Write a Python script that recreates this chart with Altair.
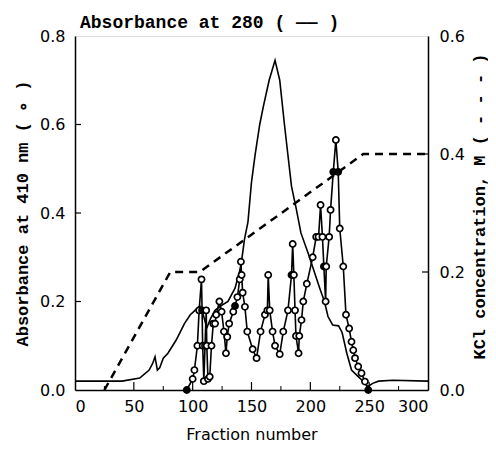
import altair as alt
import pandas as pd

# ---- data ----
frac_280 = [0, 40, 55, 63, 66, 68, 70, 72, 75, 79, 86, 93, 98, 102, 106, 109, 112, 115, 119, 124, 130,
            136, 141, 144, 147, 150, 153, 157, 160, 165, 170, 174, 178, 181, 184, 188, 192, 198, 203,
            208, 212, 215, 219, 224, 227, 231, 235, 242, 249, 253, 258, 270, 300]
abs_280 = [0.02, 0.02, 0.027, 0.045, 0.06, 0.075, 0.045, 0.05, 0.072, 0.083, 0.113, 0.15, 0.17, 0.18, 0.19,
           0.17, 0.14, 0.16, 0.18, 0.19, 0.2, 0.23, 0.28, 0.34, 0.38, 0.47, 0.53, 0.6, 0.64, 0.70, 0.745,
           0.70, 0.60, 0.53, 0.46, 0.41, 0.355, 0.31, 0.27, 0.23, 0.2, 0.166, 0.147, 0.145, 0.13, 0.083,
           0.045, 0.027, 0.008, 0.015, 0.02, 0.022, 0.02]

frac_410 = [95, 100, 101.5, 104, 105.5, 107.5, 108, 108.5, 109.5, 110.5, 111.5, 112, 113, 114.5, 116,
            117.5, 119, 120, 122.7, 124.6, 126.6, 128.3, 129.4, 131, 134.5, 136, 138, 140, 141, 141.6,
            142.5, 144.4, 146.4, 151, 154.3, 157.7, 161.4, 163.5, 164.2, 165.5, 167.9, 170, 174, 177,
            181, 184, 185, 186, 187, 187.8, 190, 190.6, 192.5, 194, 197, 202, 205, 207, 208.7, 210.3,
            211.5, 213, 213.5, 216, 217.2, 219.5, 221.7, 223.7, 225, 228, 230.3, 233, 235, 236.5, 238,
            240.7, 243.5, 246.4, 249.2]
abs_410 = [0.0, 0.025, 0.045, 0.10, 0.18, 0.25, 0.18, 0.10, 0.02, 0.10, 0.18, 0.10, 0.025, 0.03, 0.10,
           0.15, 0.15, 0.17, 0.20, 0.177, 0.132, 0.083, 0.12, 0.15, 0.177, 0.19, 0.21, 0.25, 0.29, 0.26,
           0.22, 0.188, 0.132, 0.092, 0.072, 0.132, 0.17, 0.18, 0.26, 0.18, 0.132, 0.10, 0.081, 0.132,
           0.18, 0.26, 0.33, 0.26, 0.18, 0.122, 0.083, 0.122, 0.158, 0.20, 0.24, 0.30, 0.346, 0.346,
           0.418, 0.346, 0.279, 0.20, 0.279, 0.346, 0.407, 0.493, 0.565, 0.493, 0.365, 0.279, 0.17,
           0.139, 0.109, 0.09, 0.072, 0.053, 0.038, 0.019, 0.0]
filled_410 = [1, 0, 0, 0, 0, 0, 1, 0, 0, 0, 0, 0, 0, 0, 0,
              0, 0, 0, 0, 0, 0, 0, 0, 0, 0, 1, 0, 0, 0, 0,
              0, 0, 0, 0, 0, 0, 0, 0, 0, 0, 0, 0, 0, 0,
              0, 1, 0, 0, 0, 0, 0, 0, 0, 0, 0, 0, 0, 0,
              0, 0, 1, 0, 0, 0, 0, 1, 0, 1, 0, 0, 0,
              0, 0, 0, 0, 0, 0, 0, 1]

frac_kcl = [25, 81, 106, 245, 300]
kcl = [0.0, 0.2, 0.2, 0.4, 0.4]

x_ticks = [0, 50, 100, 150, 200, 250, 300]
x_minor = [25, 75, 125, 175, 225, 275]
y_left_ticks = [0.0, 0.2, 0.4, 0.6, 0.8]
y_right_ticks = [0.0, 0.2, 0.4, 0.6]

W, H = 353, 354

df280 = pd.DataFrame({"f": frac_280, "a": abs_280})
df410 = pd.DataFrame({"f": frac_410, "a": abs_410, "filled": filled_410,
                      "i": list(range(len(frac_410)))})
dfk = pd.DataFrame({"f": frac_kcl, "m": kcl})

xs = alt.Scale(domain=[0, 300], nice=False)
ysl = alt.Scale(domain=[0, 0.8], nice=False)
ysr = alt.Scale(domain=[0, 0.6], nice=False)

LABEL_FONT = "DejaVu Sans"
MONO = "Liberation Mono"

x_enc = alt.X("f:Q", scale=xs, axis=alt.Axis(
    values=x_ticks, ticks=False, domainColor="black", domainWidth=1.5, grid=False,
    labelFont=LABEL_FONT, labelFontSize=16, labelColor="black", labelPadding=8,
    title="Fraction number", titleFont=LABEL_FONT, titleFontSize=16, titleFontWeight="normal",
    titleColor="black", titleY=49, titleBaseline="alphabetic"))

y_left_enc = alt.Y("a:Q", scale=ysl, axis=alt.Axis(
    values=y_left_ticks, format=".1f", ticks=False, domainColor="black", domainWidth=1.5,
    grid=False, labelFont=LABEL_FONT, labelFontSize=16, labelColor="black", labelPadding=10,
    title="Absorbance at 410 nm ( \u2218 )", titleFont=MONO, titleFontSize=17,
    titleFontWeight="bold", titleColor="black", titleX=-53, titleY=H / 2,
    titleBaseline="middle"))

line280 = alt.Chart(df280).mark_line(color="black", strokeWidth=1.6).encode(x=x_enc, y=y_left_enc)

line410 = alt.Chart(df410).mark_line(color="black", strokeWidth=1.6).encode(
    x=alt.X("f:Q", scale=xs), y=alt.Y("a:Q", scale=ysl), order="i:Q")

pts410 = alt.Chart(df410).mark_point(shape="circle", filled=True, size=38, stroke="black",
                                     strokeWidth=1.7, opacity=1).encode(
    x=alt.X("f:Q", scale=xs), y=alt.Y("a:Q", scale=ysl),
    fill=alt.Fill("filled:N", scale=alt.Scale(domain=[0, 1], range=["white", "black"]), legend=None))

# inward ticks
xt = pd.DataFrame({"f": x_ticks[1:-1]})
xm = pd.DataFrame({"f": x_minor})
xtick_major = alt.Chart(xt).mark_rule(color="black", strokeWidth=1.2).encode(
    x=alt.X("f:Q", scale=xs), y=alt.value(H - 8), y2=alt.value(H))
xtick_minor = alt.Chart(xm).mark_rule(color="black", strokeWidth=1.0).encode(
    x=alt.X("f:Q", scale=xs), y=alt.value(H - 4), y2=alt.value(H))
ylt = pd.DataFrame({"a": y_left_ticks[1:-1]})
ytick_left = alt.Chart(ylt).mark_rule(color="black", strokeWidth=1.2).encode(
    y=alt.Y("a:Q", scale=ysl), x=alt.value(0), x2=alt.value(6))

title_df = pd.DataFrame({"t": ["Absorbance at 280 ( \u2014\u2014 )"]})
title = alt.Chart(title_df).mark_text(align="left", baseline="alphabetic", font=MONO,
                                      fontSize=18, fontWeight="bold", color="black").encode(
    text="t:N", x=alt.value(5), y=alt.value(-8))

left = alt.layer(line280, line410, pts410, xtick_major, xtick_minor, ytick_left, title)

kcl_line = alt.Chart(dfk).mark_line(color="black", strokeWidth=2.5, strokeDash=[8, 6]).encode(
    x=alt.X("f:Q", scale=xs),
    y=alt.Y("m:Q", scale=ysr, axis=alt.Axis(
        orient="right", values=y_right_ticks, format=".1f", ticks=False, domainColor="black",
        domainWidth=1.5, grid=False, labelFont=LABEL_FONT, labelFontSize=16, labelColor="black",
        labelPadding=11, title="KCl concentration, M ( - - - )", titleFont=MONO,
        titleFontSize=17, titleFontWeight="bold", titleColor="black", titleAngle=270,
        titleX=51, titleY=170, titleBaseline="middle")))
yrt = pd.DataFrame({"m": [0.2, 0.4]})
ytick_right = alt.Chart(yrt).mark_rule(color="black", strokeWidth=1.2).encode(
    y=alt.Y("m:Q", scale=ysr), x=alt.value(W - 6), x2=alt.value(W))

right = alt.layer(kcl_line, ytick_right)

chart = alt.layer(left, right).resolve_scale(y="independent").properties(
    width=W, height=H,
    autosize=alt.AutoSizeParams(type="none"),
    padding={"left": 67, "top": 28, "right": 60, "bottom": 56},
).configure_view(stroke="black", strokeWidth=1.5).configure(background="white")

chart.save("out.html", embed_options={"renderer": "svg", "actions": False})
